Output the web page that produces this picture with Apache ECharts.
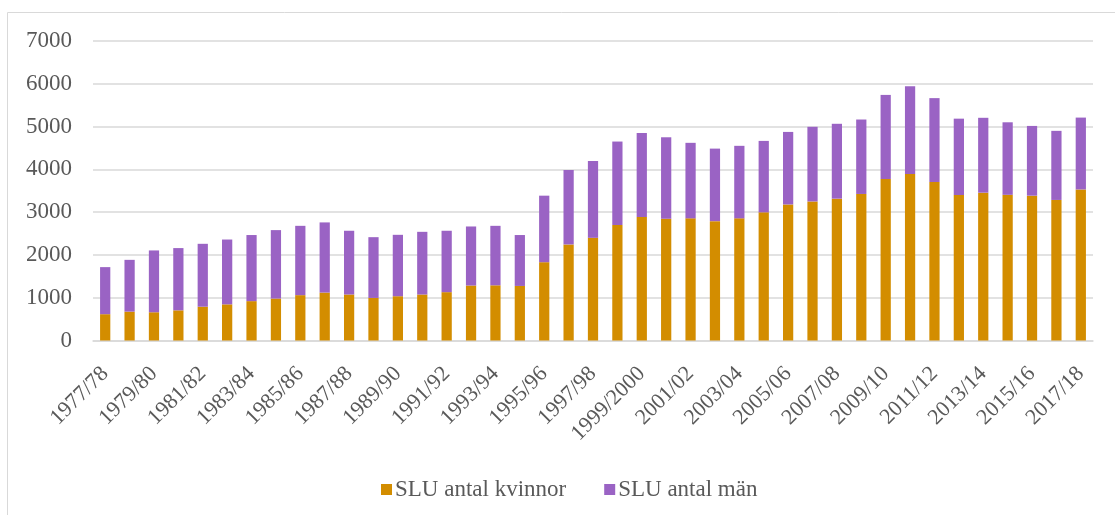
<!DOCTYPE html>
<html>
<head>
<meta charset="utf-8">
<script src="https://cdn.jsdelivr.net/npm/echarts@6/dist/echarts.min.js"></script>
<style>
  html, body { margin: 0; padding: 0; background: #fff; }
  #chart { width: 1115px; height: 515px; }
</style>
</head>
<body>
<div id="chart"></div>
<script>
// lasår
const years = [
  '1977/78', '1978/79', '1979/80', '1980/81', '1981/82', '1982/83', '1983/84',
  '1984/85', '1985/86', '1986/87', '1987/88', '1988/89', '1989/90', '1990/91',
  '1991/92', '1992/93', '1993/94', '1994/95', '1995/96', '1996/97', '1997/98',
  '1998/99', '1999/2000', '2000/01', '2001/02', '2002/03', '2003/04', '2004/05',
  '2005/06', '2006/07', '2007/08', '2008/09', '2009/10', '2010/11', '2011/12',
  '2012/13', '2013/14', '2014/15', '2015/16', '2016/17', '2017/18'
];

// SLU antal kvinnor
const women = [
  615, 675, 660, 705, 790, 845, 920, 980, 1060, 1120, 1075, 995, 1035, 1075,
  1130, 1285, 1290, 1275, 1830, 2245, 2400, 2700, 2885, 2845, 2855, 2790, 2855,
  2995, 3180, 3250, 3315, 3425, 3775, 3890, 3705, 3400, 3455, 3405, 3385, 3285, 3530
];

// SLU antal män
const men = [
  1100, 1210, 1445, 1455, 1470, 1515, 1545, 1600, 1620, 1640, 1490, 1420, 1435, 1465,
  1435, 1380, 1390, 1190, 1555, 1740, 1795, 1950, 1965, 1905, 1765, 1695, 1695,
  1670, 1695, 1745, 1750, 1740, 1965, 2055, 1960, 1785, 1750, 1695, 1630, 1615, 1680
];

const textColor = '#595959';
const font = '"Liberation Serif", "DejaVu Serif", serif';

const chart = echarts.init(document.getElementById('chart'));
chart.setOption({
  animation: false,
  textStyle: { fontFamily: font },
  graphic: [{
    type: 'rect',
    shape: { x: 7.5, y: 12.5, width: 1120, height: 520 },
    style: { fill: 'none', stroke: '#d9d9d9', lineWidth: 1 },
    silent: true
  }],
  legend: {
    left: 376,
    top: 473,
    itemWidth: 11,
    itemHeight: 11,
    itemGap: 38,
    icon: 'rect',
    textStyle: { color: textColor, fontSize: 23, fontFamily: font, padding: [0, 0, 0, -2] },
    data: ['SLU antal kvinnor', 'SLU antal män']
  },
  grid: {
    left: 93,
    right: 22,
    top: 41,
    bottom: 174.5,
    containLabel: false
  },
  xAxis: {
    type: 'category',
    data: years,
    axisTick: { show: false },
    axisLine: { lineStyle: { color: '#d9d9d9', width: 1.5 } },
    axisLabel: {
      interval: 1,
      rotate: 45,
      margin: 30,
      color: textColor,
      fontSize: 22,
      fontFamily: font
    }
  },
  yAxis: {
    type: 'value',
    min: 0,
    max: 7000,
    interval: 1000,
    axisLine: { show: false },
    axisTick: { show: false },
    splitLine: { lineStyle: { color: '#d9d9d9', width: 1.5 } },
    axisLabel: {
      margin: 21,
      color: textColor,
      fontSize: 23,
      fontFamily: font,
      formatter: v => String(v)
    }
  },
  series: [
    {
      name: 'SLU antal kvinnor',
      type: 'bar',
      stack: 'total',
      barWidth: '42%',
      itemStyle: { color: '#d38d00' },
      data: women
    },
    {
      name: 'SLU antal män',
      type: 'bar',
      stack: 'total',
      barWidth: '42%',
      itemStyle: { color: '#9a63c4' },
      data: men
    }
  ]
});
</script>
</body>
</html>
